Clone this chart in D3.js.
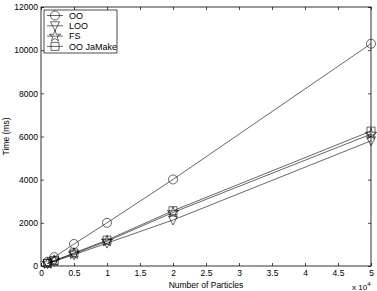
<!DOCTYPE html>
<html>
<head>
<meta charset="utf-8">
<script src="https://cdn.jsdelivr.net/npm/d3@7"></script>
<style>
  html, body { margin: 0; padding: 0; background: #fff; overflow: hidden; }
  svg { display: block; }
  text { font-family: "Liberation Sans", Arial, sans-serif; fill: #000; }
</style>
</head>
<body>
<svg id="chart" width="377" height="291"></svg>
<script>
// data
const particles = [1000, 2000, 5000, 10000, 20000, 50000];
const ooTimes = [200, 410, 1020, 2000, 4010, 10300];
const looTimes = [110, 220, 520, 1060, 2130, 5800];
const fsTimes = [120, 240, 570, 1150, 2480, 6110];
const jamakeTimes = [125, 250, 600, 1200, 2560, 6250];
const seriesNames = ["OO", "LOO", "FS", "OO JaMake"];
const seriesMarkers = ["circle", "triangle", "star", "square"];
const xTicks = [0, 0.5, 1, 1.5, 2, 2.5, 3, 3.5, 4, 4.5, 5];
const yTicks = [0, 2000, 4000, 6000, 8000, 10000, 12000];

const series = [ooTimes, looTimes, fsTimes, jamakeTimes].map((vals, i) => ({
  name: seriesNames[i],
  marker: seriesMarkers[i],
  values: vals.map((v, j) => ({ x: particles[j] / 1e4, y: v })),
}));

const svg = d3.select("#chart");
const margin = { top: 7, left: 41, right: 6, bottom: 25 };
const innerWidth = 377 - margin.left - margin.right;
const innerHeight = 291 - margin.top - margin.bottom;

const xScale = d3.scaleLinear().domain([0, 5]).range([0, innerWidth]);
const yScale = d3.scaleLinear().domain([0, 12000]).range([innerHeight, 0]);

const g = svg.append("g").attr("transform", `translate(${margin.left},${margin.top})`);

// axes, ticks pointing inwards like matlab
const tickLen = 3;
const xAxisG = g.append("g").attr("transform", `translate(0,${innerHeight})`)
  .call(d3.axisBottom(xScale).tickValues(xTicks).tickSizeInner(-tickLen).tickSizeOuter(0).tickPadding(5).tickFormat(d3.format("")));
const xTopG = g.append("g")
  .call(d3.axisTop(xScale).tickValues(xTicks).tickSizeInner(-tickLen).tickSizeOuter(0).tickFormat(""));
const yAxisG = g.append("g")
  .call(d3.axisLeft(yScale).tickValues(yTicks).tickSizeInner(-tickLen).tickSizeOuter(0).tickPadding(3).tickFormat(d3.format("d")));
const yRightG = g.append("g").attr("transform", `translate(${innerWidth},0)`)
  .call(d3.axisRight(yScale).tickValues(yTicks).tickSizeInner(-tickLen).tickSizeOuter(0).tickFormat(""));

[xAxisG, xTopG, yAxisG, yRightG].forEach((a) => {
  a.select(".domain").remove();
  a.selectAll(".tick line").attr("stroke", "#000").attr("stroke-width", 0.7);
  a.selectAll("text").attr("font-size", 8.5).style("font-family", '"Liberation Sans", Arial, sans-serif');
});
xAxisG.selectAll("text").attr("dy", null).attr("y", 10);

g.append("rect")
  .attr("width", innerWidth).attr("height", innerHeight)
  .attr("fill", "none").attr("stroke", "#000").attr("stroke-width", 0.8);

// axis labels
g.append("text")
  .text("Number of Particles")
  .attr("x", 165).attr("y", innerHeight + 21.5)
  .attr("text-anchor", "middle").attr("font-size", 8.5);

const mult = g.append("text").attr("x", innerWidth - 19).attr("y", innerHeight + 24).attr("font-size", 8);
mult.append("tspan").text("x 10");
mult.append("tspan").text("4").attr("font-size", 6).attr("dy", -4);

g.append("text")
  .text("Time (ms)")
  .attr("transform", `translate(-32,${innerHeight / 2}) rotate(-90)`)
  .attr("text-anchor", "middle").attr("font-size", 8.5);

// marker shapes
function markerPath(type) {
  if (type === "circle") return d3.symbol(d3.symbolCircle, 64)();
  if (type === "square") return "M-4,-4H4V4H-4Z";
  if (type === "triangle") return "M-4.5,-4H4.5L0,5Z";
  return d3.symbol(d3.symbolStar, 40)();
}

const lineGen = d3.line().x((d) => xScale(d.x)).y((d) => yScale(d.y));

const plot = g.append("g");
series.forEach((s) => {
  plot.append("path")
    .attr("d", lineGen(s.values))
    .attr("fill", "none").attr("stroke", "#000").attr("stroke-width", 0.6);
  plot.selectAll(null).data(s.values).enter()
    .append("path")
    .attr("d", markerPath(s.marker))
    .attr("transform", (d) => `translate(${xScale(d.x)},${yScale(d.y)})`)
    .attr("fill", "none").attr("stroke", "#000").attr("stroke-width", 0.6);
});

// legend
const legend = g.append("g").attr("transform", "translate(3,3)");
legend.append("rect")
  .attr("width", 73).attr("height", 43)
  .attr("fill", "#fff").attr("stroke", "#000").attr("stroke-width", 0.7);
series.forEach((s, i) => {
  const row = legend.append("g").attr("transform", `translate(0,${5.5 + i * 10.3})`);
  row.append("line").attr("x1", 3).attr("x2", 19).attr("stroke", "#000").attr("stroke-width", 0.6);
  row.append("path").attr("d", markerPath(s.marker)).attr("transform", "translate(11,0)")
    .attr("fill", "none").attr("stroke", "#000").attr("stroke-width", 0.6);
  row.append("text").text(s.name).attr("x", 25).attr("dy", "0.35em").attr("font-size", 9);
});
</script>
</body>
</html>
